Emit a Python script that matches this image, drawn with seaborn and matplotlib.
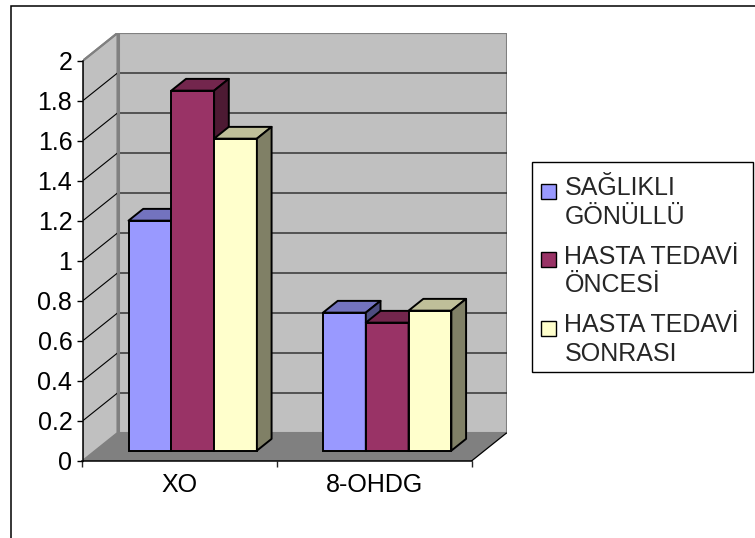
import numpy as np
import pandas as pd
import seaborn as sns
import matplotlib
matplotlib.use("Agg")
import matplotlib.pyplot as plt
from matplotlib.patches import Polygon, Rectangle
from matplotlib.legend_handler import HandlerPatch
from matplotlib.colors import to_rgb

# ---- data -------------------------------------------------------------
categories = ["XO", "8-OHDG"]
series = ["SAĞLIKLI\nGÖNÜLLÜ", "HASTA TEDAVİ\nÖNCESİ", "HASTA TEDAVİ\nSONRASI"]
healthy = [1.15, 0.69]
before_treatment = [1.80, 0.64]
after_treatment = [1.56, 0.70]
colors = ["#9999FF", "#993366", "#FFFFCC"]
y_ticks = [0, 0.2, 0.4, 0.6, 0.8, 1.0, 1.2, 1.4, 1.6, 1.8, 2.0]
y_tick_labels = ["0", "0.2", "0.4", "0.6", "0.8", "1", "1.2", "1.4", "1.6", "1.8", "2"]

df = pd.DataFrame({
    "category": categories * 3,
    "series": np.repeat(series, len(categories)),
    "value": healthy + before_treatment + after_treatment,
})

# ---- style ------------------------------------------------------------
sns.set_theme(style="white")
plt.rcParams["font.family"] = ["Liberation Sans", "DejaVu Sans"]
FS = 18

W, H = 755, 538
fig = plt.figure(figsize=(W / 100, H / 100), dpi=100)
fig.patch.set_facecolor("white")

# outer chart border
fig.add_artist(Rectangle((10.5 / W, -0.5), 2.0, 1.5 - 5.5 / H, transform=fig.transFigure,
                         fill=False, edgecolor="black", linewidth=1.1, zorder=0))

# plot area: front plane spans 0..2 on y, back wall is offset by the depth vector
ax = fig.add_axes([82.5 / W, (H - 461) / H, (506.5 - 82.5) / W, (461 - 33) / H])
ax.patch.set_alpha(0)

sns.barplot(data=df, x="category", y="value", hue="series", palette=colors,
            width=0.66, saturation=1, edgecolor="black", linewidth=1.4,
            errorbar=None, legend=False, ax=ax)

ax.set_xlim(-0.5, -0.5 + 424 / 194.5)
ax.set_ylim(0, 428 / 200)

# depth vector (35 px right, 28 px up) in data units
p0 = ax.transData.transform((0, 0))
p1 = ax.transData.transform((1, 1))
ddx = 35 / (p1[0] - p0[0])
ddy = 28 / (p1[1] - p0[1])

x0, x1, ytop = -0.5, 1.5, 2.0
WALL = "#C0C0C0"
FLOOR = "#808080"
EDGE = "#808080"

ax.add_patch(Polygon([(x0 + ddx, ddy), (x1 + ddx, ddy), (x1 + ddx, ytop + ddy), (x0 + ddx, ytop + ddy)],
                     closed=True, facecolor=WALL, edgecolor=EDGE, linewidth=1.5, zorder=0.5))
ax.add_patch(Polygon([(x0, 0), (x0 + ddx, ddy), (x0 + ddx, ytop + ddy), (x0, ytop)],
                     closed=True, facecolor=WALL, edgecolor=EDGE, linewidth=1.5, zorder=0.6))
ax.add_patch(Polygon([(x0, 0), (x1, 0), (x1 + ddx, ddy), (x0 + ddx, ddy)],
                     closed=True, facecolor=FLOOR, edgecolor="none", zorder=0.7))
ax.plot([x1, x1 + ddx], [0, ddy], color="black", lw=0.9, zorder=0.8)

# gridlines running across the side wall and the back wall
for v in y_ticks[1:-1]:
    ax.plot([x0, x0 + ddx, x1 + ddx], [v, v + ddy, v + ddy], color="black", lw=0.8, zorder=1)
ax.plot([x0 + ddx, x0 + ddx], [ddy, ytop + ddy], color=EDGE, lw=2.2, zorder=1.1)
ax.plot([x0, x0 + ddx, x1 + ddx], [ytop, ytop + ddy, ytop + ddy], color=EDGE, lw=1.5, zorder=1.1)

# extrude the seaborn bars into boxes
d0, d1 = 0.37, 0.79
dd = d1 - d0
for i, container in enumerate(ax.containers):
    base = to_rgb(container.patches[0].get_facecolor())
    top_c = tuple(0.75 * c for c in base)
    side_c = tuple(0.5 * c for c in base)
    for bar in container.patches:
        bar.set_x(bar.get_x() + d0 * ddx)
        bar.set_y(bar.get_y() + d0 * ddy)
        bar.set_zorder(3 + i * 0.1)
        x, y, w, h = bar.get_x(), bar.get_y(), bar.get_width(), bar.get_height()
        top = [(x, y + h), (x + w, y + h), (x + w + dd * ddx, y + h + dd * ddy), (x + dd * ddx, y + h + dd * ddy)]
        side = [(x + w, y), (x + w + dd * ddx, y + dd * ddy), (x + w + dd * ddx, y + h + dd * ddy), (x + w, y + h)]
        ax.add_patch(Polygon(top, closed=True, facecolor=top_c, edgecolor="black",
                             linewidth=1.4, joinstyle="round", zorder=3 + i * 0.1 + 0.03))
        ax.add_patch(Polygon(side, closed=True, facecolor=side_c, edgecolor="black",
                             linewidth=1.4, joinstyle="round", zorder=3 + i * 0.1 + 0.06))

# front axes
for s in ("top", "right"):
    ax.spines[s].set_visible(False)
for s in ("left", "bottom"):
    ax.spines[s].set_color("black")
    ax.spines[s].set_linewidth(1.1)
    ax.spines[s].set_zorder(2)
ax.spines["left"].set_bounds(0, 2)
ax.spines["bottom"].set_bounds(-0.5, 1.5)

ax.set_yticks(y_ticks, labels=y_tick_labels)
ax.tick_params(axis="y", left=True, direction="out", length=4.3, width=1, pad=3,
               labelsize=FS, colors="black")
ax.set_xticks([-0.5, 0.5, 1.5], labels=["", "", ""])
ax.set_xticks([0, 1], labels=categories, minor=True)
ax.tick_params(axis="x", which="major", bottom=True, direction="out", length=4.3, width=1)
ax.tick_params(axis="x", which="minor", bottom=True, length=0, pad=9, labelsize=FS,
               labelcolor="black")
ax.set_xlabel("")
ax.set_ylabel("")


class LeadSquare(HandlerPatch):
    """Square key aligned with the first line of a two-line label."""

    def __init__(self, lift, size, shift, **kw):
        super().__init__(**kw)
        self.lift, self.size, self.shift = lift, size, shift

    def create_artists(self, legend, orig_handle, xdescent, ydescent, width, height, fontsize, trans):
        s = self.size * fontsize
        p = Rectangle((-xdescent + self.shift * fontsize, -ydescent + self.lift * fontsize), s, s,
                      facecolor=orig_handle.get_facecolor(), edgecolor="black",
                      linewidth=1.0, transform=trans)
        return [p]


# legend box outline
fig.add_artist(Rectangle((532 / W, 1 - 372 / H), (753 - 532) / W, (372 - 162) / H,
                         transform=fig.transFigure, facecolor="white", edgecolor="black",
                         linewidth=1.0, zorder=1))

handles = [Rectangle((0, 0), 1, 1, facecolor=c, edgecolor="black") for c in colors]
leg = fig.legend(handles, series, loc="upper left",
                 bbox_to_anchor=(532 / W, 1 - 162 / H),
                 borderaxespad=0, fontsize=FS, frameon=False,
                 borderpad=0.55, labelspacing=0.64,
                 handlelength=0.7, handleheight=0.7, handletextpad=0.05,
                 handler_map={Rectangle: LeadSquare(lift=0.52, size=0.6, shift=-0.2)})
leg.set_zorder(2)
for t in leg.get_texts():
    t.set_linespacing(1.25)

fig.savefig("out.png", dpi=100, facecolor="white")
